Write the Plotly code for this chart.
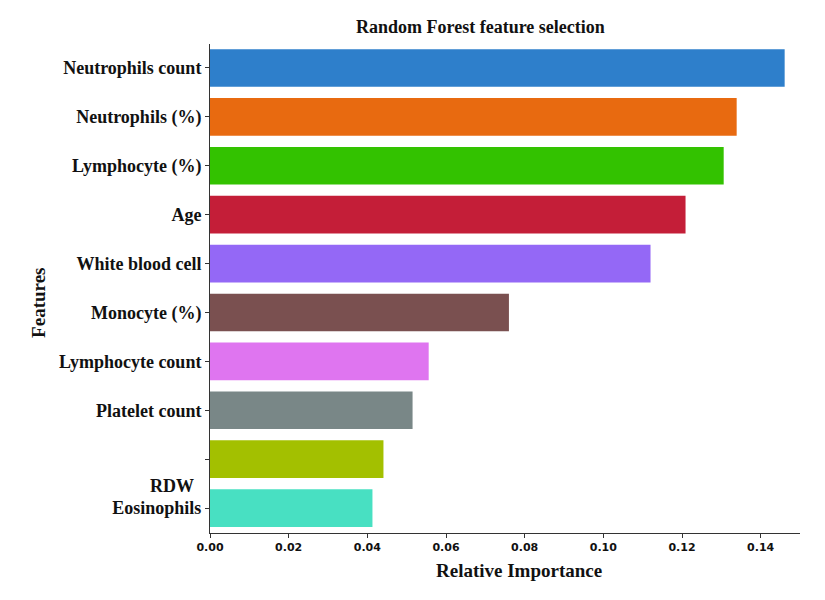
import plotly.graph_objects as go

features = ["Neutrophils count", "Neutrophils (%)", "Lymphocyte (%)", "Age",
            "White blood cell", "Monocyte (%)", "Lymphocyte count",
            "Platelet count", "RDW", "Eosinophils"]
importance = [0.1461, 0.1339, 0.1306, 0.1209, 0.1120, 0.0760, 0.0556,
              0.0515, 0.0441, 0.0413]
colors = ["#2E7FCB", "#E86A10", "#33C200", "#C41E38", "#9468F6",
          "#7A5050", "#DF75F0", "#798787", "#A3C000", "#48E0C2"]
x_ticks = [0.00, 0.02, 0.04, 0.06, 0.08, 0.10, 0.12, 0.14]

pos = list(range(len(features)))
tick_text = [f if f != "RDW" else "" for f in features]

fig = go.Figure(go.Bar(
    x=importance, y=pos, orientation="h",
    marker=dict(color=colors, line=dict(width=0)),
    width=0.77,
))

serif = "Liberation Serif"
# the page body has an 8px margin, so the figure is sized/placed to compensate
fig.update_layout(
    width=817, height=592,
    margin=dict(l=201.5, r=25, t=36, b=67, autoexpand=False),
    plot_bgcolor="white", paper_bgcolor="white",
    showlegend=False,
    xaxis=dict(range=[0, 0.15], tickvals=x_ticks, automargin=False,
               ticktext=[f"<b>{v:.2f}</b>" for v in x_ticks],
               tickfont=dict(family="DejaVu Sans", size=11, color="#111"),
               showgrid=False, zeroline=False, showline=True,
               linecolor="#333", linewidth=1, ticks="outside", ticklen=4,
               tickcolor="#333"),
    yaxis=dict(range=[9.51, -0.49], tickvals=pos, automargin=False,
               ticktext=[f"<b>{t}</b>" if t else "" for t in tick_text],
               tickfont=dict(family=serif, size=18, color="#111"),
               showgrid=False, zeroline=False, showline=True,
               linecolor="#333", linewidth=1, ticks="outside", ticklen=4,
               tickcolor="#333"),
)

fig.add_annotation(x=0.458, y=1.035, xref="paper", yref="paper",
                   text="<b>Random Forest feature selection</b>",
                   showarrow=False, xanchor="center", yanchor="middle",
                   font=dict(family=serif, size=18, color="#111"))
fig.add_annotation(x=0.524, y=-0.0757, xref="paper", yref="paper",
                   text="<b>Relative Importance</b>",
                   showarrow=False, xanchor="center", yanchor="middle",
                   font=dict(family=serif, size=19, color="#111"))
fig.add_annotation(x=-0.292, y=0.47, xref="paper", yref="paper",
                   text="<b>Features</b>", textangle=-90,
                   showarrow=False, xanchor="center", yanchor="middle",
                   font=dict(family=serif, size=19, color="#111"))
fig.add_annotation(x=0, y=8.55, xref="x", yref="y", text="<b>RDW</b>",
                   showarrow=False, xanchor="right", xshift=-14,
                   font=dict(family=serif, size=18, color="#111"))

fig.write_html("out.html")
